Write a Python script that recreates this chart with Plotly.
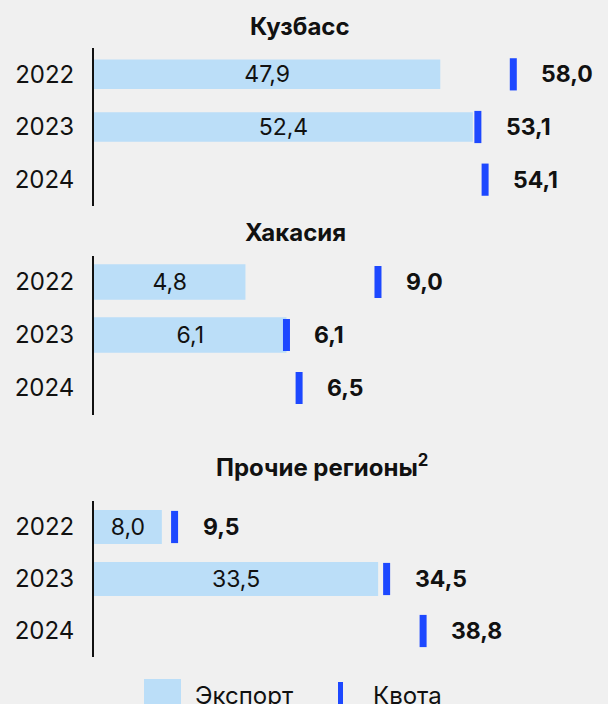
import plotly.graph_objects as go

# Coal export vs. export quota by region, mln t
years = ["2022", "2023", "2024"]
regions = ["Кузбасс", "Хакасия", "Прочие регионы<sup>2</sup>"]

kuzbass_export = [47.9, 52.4, None]
kuzbass_quota = [58.0, 53.1, 54.1]

khakasia_export = [4.8, 6.1, None]
khakasia_quota = [9.0, 6.1, 6.5]

other_export = [8.0, 33.5, None]
other_quota = [9.5, 34.5, 38.8]

legend_labels = ["Экспорт", "Квота"]

BG = "#f0f0f0"
BAR = "#bbdef8"
QUOTA = "#1d48ff"
INK = "#111111"
FONT = "Inter"
W, H = 608, 704


def py(px):
    """pixel row -> paper y"""
    return 1 - px / H


def fmt(v):
    return f"{v:.1f}".replace(".", ",")


panels = [
    dict(export=kuzbass_export, quota=kuzbass_quota, xmax=71.1, bw=0.56,
         dom=[py(206), py(48)], title=regions[0], tx=300, ty=27),
    dict(export=khakasia_export, quota=khakasia_quota, xmax=16.29, bw=0.67,
         dom=[py(414.5), py(255.5)], title=regions[1], tx=295, ty=232),
    dict(export=other_export, quota=other_quota, xmax=60.6, bw=0.65,
         dom=[py(657), py(501)], title=regions[2], tx=322, ty=466),
]

fig = go.Figure()
annotations = []
x_left = 94 / W

for i, p in enumerate(panels, start=1):
    xa = "x" if i == 1 else f"x{i}"
    ya = "y" if i == 1 else f"y{i}"
    fig.add_trace(go.Bar(
        y=years, x=p["export"], orientation="h", width=p["bw"],
        marker=dict(color=BAR, line=dict(width=0)),
        text=[fmt(v) if v is not None else "" for v in p["export"]],
        textposition="inside", insidetextanchor="middle",
        textfont=dict(family=FONT, size=23, color=INK, weight=400),
        constraintext="none",
        xaxis=xa, yaxis=ya, showlegend=False, hoverinfo="skip",
    ))
    fig.add_trace(go.Scatter(
        y=years, x=p["quota"], mode="markers",
        marker=dict(symbol="line-ns", size=23,
                    line=dict(width=7, color=QUOTA), color=QUOTA),
        xaxis=xa, yaxis=ya, showlegend=False, hoverinfo="skip",
    ))
    # quota value labels, placed by category index on the category axis
    for k, q in enumerate(p["quota"]):
        annotations.append(dict(
            x=q, y=k, xref=xa, yref=ya, text=f"<b>{fmt(q)}</b>",
            showarrow=False, xanchor="left", yanchor="middle", xshift=26,
            font=dict(family=FONT, size=23, color=INK),
        ))
    annotations.append(dict(
        x=p["tx"] / W, y=py(p["ty"]), xref="paper", yref="paper",
        text=f"<b>{p['title']}</b>", showarrow=False,
        xanchor="center", yanchor="middle",
        font=dict(family=FONT, size=24, color=INK),
    ))
    fig.update_layout(**{
        ("xaxis" if i == 1 else f"xaxis{i}"): dict(
            domain=[x_left, 1], range=[0, p["xmax"]], visible=False,
            fixedrange=True, anchor=ya,
        ),
        ("yaxis" if i == 1 else f"yaxis{i}"): dict(
            domain=p["dom"], type="category", categoryorder="array",
            categoryarray=years, range=[2.5, -0.5], anchor=xa,
            showline=True, linecolor=INK, linewidth=2,
            showgrid=False, zeroline=False, ticks="",
            ticklabelstandoff=13,
            tickfont=dict(family=FONT, size=24, color=INK, weight=400),
        ),
    })

# legend drawn below the panels
shapes = [
    dict(type="rect", xref="paper", yref="paper",
         x0=144 / W, x1=181 / W, y0=py(716), y1=py(679),
         fillcolor=BAR, line=dict(width=0)),
    dict(type="rect", xref="paper", yref="paper",
         x0=338 / W, x1=343 / W, y0=py(716), y1=py(682),
         fillcolor=QUOTA, line=dict(width=0)),
]
for label, lx in zip(legend_labels, [193, 371]):
    annotations.append(dict(
        x=lx / W, y=py(679), xref="paper", yref="paper", text=label,
        showarrow=False, xanchor="left", yanchor="top",
        font=dict(family=FONT, size=24, color=INK, weight=400),
    ))

fig.update_layout(
    width=W, height=H, margin=dict(l=0, r=0, t=0, b=0),
    paper_bgcolor=BG, plot_bgcolor=BG,
    separators=", ", bargap=0.4, showlegend=False,
    annotations=annotations, shapes=shapes,
    font=dict(family=FONT, color=INK),
)

fig.write_html("out.html")
